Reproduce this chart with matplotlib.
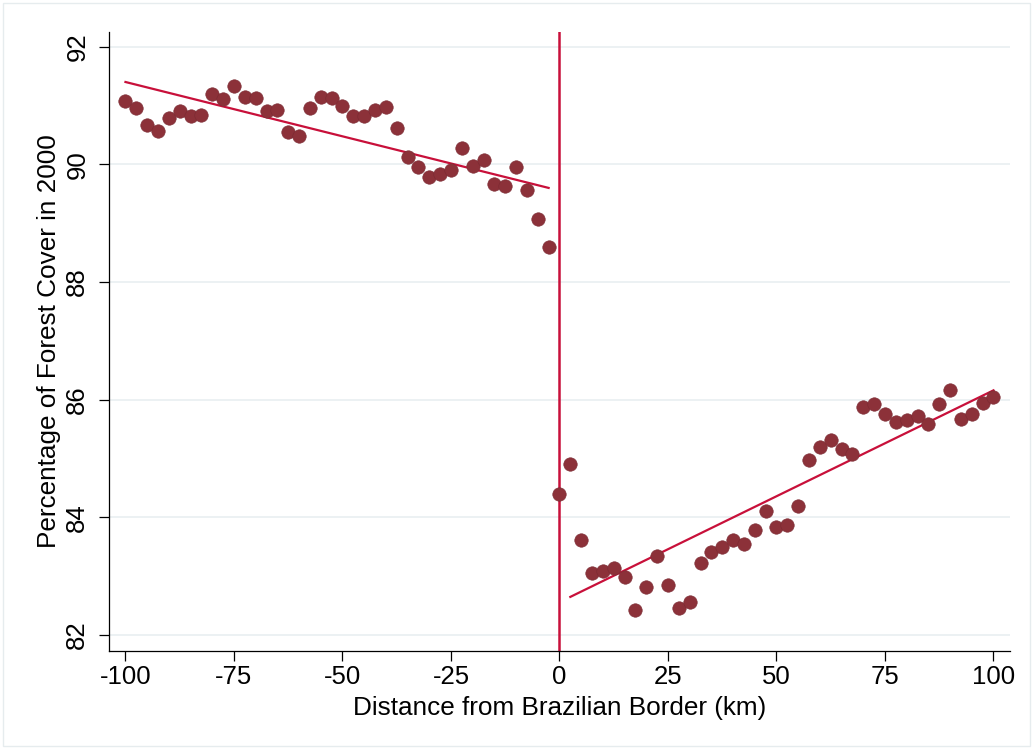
import matplotlib
matplotlib.use("Agg")
import matplotlib.pyplot as plt
from matplotlib.patches import Rectangle
import numpy as np

# ---- data ----
left_x = [-100, -97.5, -95, -92.5, -90, -87.5, -85, -82.5, -80, -77.5,
          -75, -72.5, -70, -67.5, -65, -62.5, -60, -57.5, -55, -52.5,
          -50, -47.5, -45, -42.5, -40, -37.5, -35, -32.5, -30, -27.5,
          -25, -22.5, -20, -17.5, -15, -12.5, -10, -7.5, -5, -2.5]
left_y = [91.08, 90.96, 90.67, 90.57, 90.79, 90.90, 90.82, 90.84, 91.20, 91.11,
          91.34, 91.14, 91.13, 90.90, 90.92, 90.55, 90.48, 90.95, 91.15, 91.12,
          90.99, 90.82, 90.83, 90.92, 90.97, 90.61, 90.13, 89.95, 89.78, 89.83,
          89.91, 90.28, 89.97, 90.07, 89.67, 89.64, 89.95, 89.57, 89.08, 88.60]

right_x = [0, 2.5, 5, 7.5, 10, 12.5, 15, 17.5, 20, 22.5,
           25, 27.5, 30, 32.5, 35, 37.5, 40, 42.5, 45, 47.5,
           50, 52.5, 55, 57.5, 60, 62.5, 65, 67.5, 70, 72.5,
           75, 77.5, 80, 82.5, 85, 87.5, 90, 92.5, 95, 97.5, 100]
right_y = [84.40, 84.90, 83.61, 83.05, 83.09, 83.14, 82.98, 82.42, 82.82, 83.34,
           82.85, 82.46, 82.56, 83.23, 83.41, 83.50, 83.61, 83.55, 83.78, 84.11,
           83.84, 83.88, 84.19, 84.97, 85.20, 85.31, 85.17, 85.07, 85.87, 85.92,
           85.75, 85.62, 85.65, 85.72, 85.58, 85.92, 86.16, 85.67, 85.76, 85.94, 86.05]

fit_left_x = [-100, -2.5]
fit_left_y = [91.40, 89.60]
fit_right_x = [2.5, 100]
fit_right_y = [82.65, 86.16]

x_ticks = [-100, -75, -50, -25, 0, 25, 50, 75, 100]
y_ticks = [82, 84, 86, 88, 90, 92]

xlabel = "Distance from Brazilian Border (km)"
ylabel = "Percentage of Forest Cover in 2000"

# ---- style ----
plt.rcParams['font.family'] = ['Liberation Sans', 'DejaVu Sans']
marker_color = "#8C3139"
line_color = "#C8103A"
grid_color = "#EAF0F2"

fig = plt.figure(figsize=(10.33, 7.49), dpi=100)
fig.patch.set_facecolor("white")
fig.patches.append(Rectangle((0.003, 0.004), 0.994, 0.992, transform=fig.transFigure,
                             fill=False, edgecolor="#E6ECEE", linewidth=1.0))

ax = fig.add_axes([0.1055, 0.1308, 0.8722, 0.8269])
ax.set_xlim(-103.8, 103.8)
ax.set_ylim(81.73, 92.255)

for yt in y_ticks:
    ax.axhline(yt, color=grid_color, linewidth=1.3, zorder=0)

ax.axvline(0, color=line_color, linewidth=1.8, zorder=2)

ax.plot(fit_left_x, fit_left_y, color=line_color, linewidth=1.6, zorder=3)
ax.plot(fit_right_x, fit_right_y, color=line_color, linewidth=1.6, zorder=3)

ax.plot(left_x, left_y, linestyle="none", marker="o", markersize=9.7,
        color=marker_color, markeredgewidth=0.4, markeredgecolor="#7A2A32", zorder=4)
ax.plot(right_x, right_y, linestyle="none", marker="o", markersize=9.7,
        color=marker_color, markeredgewidth=0.4, markeredgecolor="#7A2A32", zorder=4)

ax.set_xticks(x_ticks)
ax.set_xticklabels([str(v) for v in x_ticks])
ax.set_yticks(y_ticks)
ax.set_yticklabels([str(v) for v in y_ticks], rotation=90, va="center")

ax.tick_params(axis="both", direction="out", length=7.2, width=0.9, labelsize=18.5,
               color="black")
ax.tick_params(axis="x", pad=3)
ax.tick_params(axis="y", pad=7)

for s in ["top", "right"]:
    ax.spines[s].set_visible(False)
for s in ["left", "bottom"]:
    ax.spines[s].set_linewidth(0.9)

ax.set_xlabel(xlabel, fontsize=18.8)
ax.set_ylabel(ylabel, fontsize=18.8)
ax.xaxis.set_label_coords(0.5, -0.072)
ax.yaxis.set_label_coords(-0.053, 0.5)

fig.savefig("out.png", dpi=100)
